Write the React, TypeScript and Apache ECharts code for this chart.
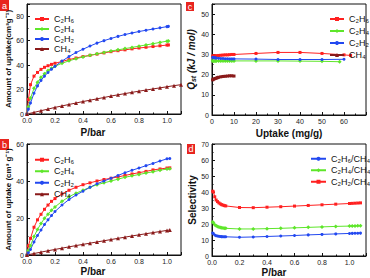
import React, { useEffect, useRef } from "react";
import * as echarts from "echarts";

// ---- Panel a (uptake, P/bar) ----
const pA = [0, 0.01, 0.025, 0.05, 0.075, 0.1, 0.125, 0.15, 0.175, 0.2, 0.25, 0.3, 0.35, 0.4, 0.45, 0.5, 0.55, 0.6, 0.65, 0.7, 0.75, 0.8, 0.85, 0.9, 0.95, 1.0, 1.01];
const aC2H6 = [0, 12, 24, 31, 34, 36.5, 38.2, 39.5, 40.6, 41.5, 43, 44.5, 45.8, 47, 48, 49, 50, 51, 51.8, 52.5, 53.3, 54, 54.6, 55.2, 55.8, 56.4, 56.5];
const aC2H4 = [0, 6, 13, 21, 26, 30, 33, 35.5, 37.5, 39, 41.5, 43.5, 45.2, 46.7, 48, 49.2, 50.4, 51.5, 52.5, 53.5, 54.5, 55.5, 56.5, 57.5, 58.6, 59.6, 59.8];
const aC2H2 = [0, 4, 9, 17, 23, 27.5, 31, 34, 36.7, 39, 43.3, 47, 50.3, 53, 55.6, 58, 60, 61.8, 63.5, 65, 66.3, 67.5, 68.5, 69.5, 70.5, 71.5, 71.7];
const pACH4 = [0, 0.05, 0.1, 0.15, 0.2, 0.25, 0.3, 0.35, 0.4, 0.45, 0.5, 0.55, 0.6, 0.65, 0.7, 0.75, 0.8, 0.85, 0.9, 0.95, 1.0, 1.05, 1.1];
const aCH4 = [0, 1.3, 2.7, 4.0, 5.4, 6.6, 7.8, 9.0, 10.2, 11.3, 12.4, 13.5, 14.7, 15.7, 16.7, 17.7, 18.7, 19.6, 20.5, 21.4, 22.3, 23.2, 24.0];

// ---- Panel b ----
const pB = [0, 0.01, 0.025, 0.05, 0.075, 0.1, 0.125, 0.15, 0.175, 0.2, 0.25, 0.3, 0.35, 0.4, 0.45, 0.5, 0.55, 0.6, 0.65, 0.7, 0.75, 0.8, 0.85, 0.9, 0.95, 1.0, 1.02];
const bC2H6 = [0, 5, 9, 15, 19, 22, 24.7, 27, 29, 30.5, 33, 35, 36.6, 38, 39, 40, 40.8, 41.5, 42.2, 43, 43.8, 44.5, 45.2, 46, 46.5, 47, 47.1];
const bC2H4 = [0, 2.5, 5, 10, 13.8, 17, 19.8, 22, 24.2, 26, 29, 31.5, 33.4, 35, 36.6, 38, 39, 40, 41, 42, 42.8, 43.5, 44.3, 45, 45.8, 46.5, 46.6];
const bC2H2 = [0, 1.2, 3, 7, 10.5, 13.5, 16.5, 19, 21.3, 23.5, 27, 30, 32.4, 34.5, 36.6, 38.5, 40, 41.5, 43, 44.5, 45.8, 47, 48.3, 49.5, 50.8, 52, 52.2];
const pBCH4 = [0, 0.05, 0.1, 0.15, 0.2, 0.25, 0.3, 0.35, 0.4, 0.45, 0.5, 0.55, 0.6, 0.65, 0.7, 0.75, 0.8, 0.85, 0.9, 0.95, 1.0, 1.02];
const bCH4 = [0, 0.8, 1.55, 2.3, 3.0, 3.7, 4.4, 5.1, 5.75, 6.4, 7.05, 7.7, 8.35, 9.0, 9.65, 10.3, 10.9, 11.5, 12.1, 12.7, 13.3, 13.5];

// ---- Panel c (Qst vs uptake) ----
const uC2H6 = [0.3, 0.6, 1, 1.5, 2, 3, 4, 5, 6, 7, 8, 9, 10, 20, 30, 40, 50, 60, 63];
const qC2H6 = [29.2, 29.2, 29.3, 29.3, 29.4, 29.5, 29.6, 29.7, 29.8, 29.8, 29.9, 30, 30, 30.5, 31, 31, 30.5, 29.8, 29.5];
const uC2H4 = [0.3, 0.6, 1, 1.5, 2, 3, 4, 5, 6, 7, 8, 9, 10, 20, 30, 40, 50, 58];
const qC2H4 = [26.8, 26.8, 26.8, 26.8, 26.8, 26.8, 26.8, 26.8, 26.8, 26.8, 26.8, 26.8, 26.8, 26.8, 26.8, 26.7, 26.6, 26.4];
const uC2H2 = [0.3, 0.6, 1, 1.5, 2, 3, 4, 5, 6, 7, 8, 9, 10, 20, 30, 40, 50, 60];
const qC2H2 = [28.6, 28.5, 28.4, 28.3, 28.2, 28.1, 28, 28, 27.9, 27.9, 27.8, 27.8, 27.8, 27.7, 27.5, 27.5, 27.5, 27.6];
const uCH4 = [0.3, 0.6, 1, 1.5, 2, 2.5, 3, 4, 5, 6, 7, 8, 9, 10];
const qCH4 = [17.4, 17.7, 17.9, 18.1, 18.3, 18.5, 18.7, 18.9, 19.1, 19.2, 19.3, 19.4, 19.4, 19.3];

// ---- Panel d (selectivity) ----
const pD = [0.005, 0.01, 0.02, 0.03, 0.04, 0.05, 0.06, 0.07, 0.08, 0.09, 0.1, 0.2, 0.3, 0.4, 0.5, 0.6, 0.7, 0.8, 0.9, 1.0, 1.02, 1.04, 1.06, 1.08];
const sC2H6 = [14.4, 14, 13.1, 12.7, 12.5, 12.3, 12.2, 12.1, 12.05, 12, 12, 11.7, 11.9, 12.2, 12.5, 12.8, 13.2, 13.5, 13.8, 14.1, 14.15, 14.2, 14.25, 14.3];
const sC2H4 = [21.2, 20.8, 19.6, 18.9, 18.4, 18.1, 17.8, 17.6, 17.5, 17.4, 17.3, 16.9, 16.9, 17.1, 17.3, 17.6, 17.9, 18.2, 18.5, 18.7, 18.75, 18.8, 18.85, 18.9];
const sC2H2 = [40.5, 40, 37, 35, 34, 33.2, 32.6, 32.1, 31.8, 31.5, 31.3, 30.3, 30.2, 30.5, 30.8, 31.2, 31.6, 32, 32.4, 32.8, 32.9, 33, 33.1, 33.2];

const gasNames = ["C₂H₆", "C₂H₄", "C₂H₂", "CH₄"];
const selNames = ["C₂H₆/CH₄", "C₂H₄/CH₄", "C₂H₂/CH₄"];

const RED = "#ff2020";
const GREEN = "#5ee62a";
const BLUE = "#2248f0";
const BROWN = "#8a1a1a";

const zip = (xs: number[], ys: number[]) => xs.map((x, i) => [x, ys[i]]);

export default function App() {
  const ref = useRef<HTMLDivElement>(null);
  useEffect(() => {
    document.body.style.margin = "0";
    const chart = echarts.init(ref.current!, null, { renderer: "svg" });
    const font = "Liberation Sans, Arial, sans-serif";
    const grids = [
      { left: 27, top: 4, width: 154, height: 110 },
      { left: 27, top: 144, width: 154, height: 111 },
      { left: 212, top: 4, width: 154, height: 111 },
      { left: 212, top: 144, width: 154, height: 112 },
    ].map((g) => ({ ...g, show: true, borderColor: "#111", borderWidth: 1, backgroundColor: "transparent" }));

    const axisCommon = {
      axisLine: { show: true, onZero: false, lineStyle: { color: "#111", width: 1 } },
      axisTick: { show: true, inside: true, length: 3, lineStyle: { color: "#111" } },
      minorTick: { show: true, splitNumber: 2, length: 1.5, lineStyle: { color: "#111" } },
      splitLine: { show: false },
      axisLabel: { fontSize: 7, color: "#222", fontFamily: font, margin: 3, showMaxLabel: false },
      nameTextStyle: { fontFamily: font, fontWeight: "bold" as const, color: "#111" },
    };
    const fx1 = (v: number) => v.toFixed(1);

    const xAxes = [
      { gridIndex: 0, min: 0, max: 1.1, interval: 0.2, name: "P/bar", nameGap: 13, formatter: fx1, padR: 22 },
      { gridIndex: 1, min: 0, max: 1.1, interval: 0.2, name: "P/bar", nameGap: 11, formatter: fx1, padR: 22 },
      { gridIndex: 2, min: 0, max: 70, interval: 10, name: "Uptake (mg/g)", nameGap: 13, formatter: null, padR: 0 },
      { gridIndex: 3, min: 0, max: 1.12, interval: 0.2, name: "P/bar", nameGap: 11, formatter: fx1, padR: 30 },
    ].map((a) => ({
      type: "value" as const,
      gridIndex: a.gridIndex,
      min: a.min,
      max: a.max,
      interval: a.interval,
      name: a.name,
      nameLocation: "middle" as const,
      nameGap: a.nameGap,
      ...axisCommon,
      axisLabel: { ...axisCommon.axisLabel, ...(a.formatter ? { formatter: a.formatter } : {}) },
      nameTextStyle: { ...axisCommon.nameTextStyle, fontSize: 10, padding: [0, a.padR, 0, 0] },
    }));

    const yAxes = [
      { gridIndex: 0, max: 90, interval: 20, name: "Amount of uptake(cm³g⁻¹)", nameGap: 12, size: 8 },
      { gridIndex: 1, max: 60, interval: 20, name: "Amount of uptake (cm³ g⁻¹)", nameGap: 12, size: 8 },
      { gridIndex: 2, max: 55, interval: 10, name: "{q|Q}{s|st}{t| (kJ / mol)}", nameGap: 12, size: 10 },
      { gridIndex: 3, max: 70, interval: 10, name: "Selectivity", nameGap: 12, size: 10 },
    ].map((a) => ({
      type: "value" as const,
      gridIndex: a.gridIndex,
      min: 0,
      max: a.max,
      interval: a.interval,
      name: a.name,
      nameLocation: "middle" as const,
      nameGap: a.nameGap,
      ...axisCommon,
      axisLabel: { ...axisCommon.axisLabel, showMaxLabel: a.gridIndex === 1 || a.gridIndex === 3 ? true : false },
      nameTextStyle: {
        ...axisCommon.nameTextStyle,
        fontSize: a.size,
        rich: {
          q: { fontSize: 10, fontWeight: "bold", fontStyle: "italic", fontFamily: font, color: "#111" },
          s: { fontSize: 7, fontWeight: "bold", fontStyle: "italic", fontFamily: font, color: "#111", padding: [4, 0, 0, 0] },
          t: { fontSize: 10, fontWeight: "bold", fontStyle: "italic", fontFamily: font, color: "#111" },
        },
      },
    }));

    const mk = (name: string, data: number[][], idx: number, color: string, symbol: string, lw = 1, size = 3) => ({
      type: "line" as const,
      name,
      xAxisIndex: idx,
      yAxisIndex: idx,
      data,
      smooth: false,
      color,
      symbol,
      symbolSize: size,
      showSymbol: true,
      lineStyle: { width: lw, color },
      itemStyle: { color },
    });

    const series = [
      mk(gasNames[0], zip(pA, aC2H6), 0, RED, "rect"),
      mk(gasNames[1], zip(pA, aC2H4), 0, GREEN, "diamond", 1, 4),
      mk(gasNames[2], zip(pA, aC2H2), 0, BLUE, "circle"),
      mk(gasNames[3], zip(pACH4, aCH4), 0, BROWN, "triangle", 1, 4),
      mk(gasNames[0], zip(pB, bC2H6), 1, RED, "rect"),
      mk(gasNames[1], zip(pB, bC2H4), 1, GREEN, "diamond", 1, 4),
      mk(gasNames[2], zip(pB, bC2H2), 1, BLUE, "circle"),
      mk(gasNames[3], zip(pBCH4, bCH4), 1, BROWN, "triangle", 1, 4),
      mk(gasNames[0], zip(uC2H6, qC2H6), 2, RED, "rect"),
      mk(gasNames[1], zip(uC2H4, qC2H4), 2, GREEN, "diamond", 1, 4),
      mk(gasNames[2], zip(uC2H2, qC2H2), 2, BLUE, "circle"),
      mk(gasNames[3], zip(uCH4, qCH4), 2, BROWN, "rect", 2, 3),
      mk(selNames[0], zip(pD, sC2H6), 3, BLUE, "circle"),
      mk(selNames[1], zip(pD, sC2H4), 3, GREEN, "diamond", 1, 4),
      mk(selNames[2], zip(pD, sC2H2), 3, RED, "rect"),
    ];

    const legendBase = {
      orient: "vertical" as const,
      itemGap: 0,
      itemHeight: 5,
      selectedMode: false,
      textStyle: { fontSize: 9, fontFamily: font, color: "#111", lineHeight: 10 },
    };

    const panelLabels = [
      { x: 0, y: 0, w: 9, h: 11, t: "a" },
      { x: 0, y: 139, w: 9, h: 11, t: "b" },
      { x: 186, y: 2, w: 8, h: 9, t: "c" },
      { x: 187, y: 144, w: 8, h: 10, t: "d" },
    ];

    chart.setOption({
      animation: false,
      grid: grids,
      xAxis: xAxes,
      yAxis: yAxes,
      series,
      legend: [
        { ...legendBase, data: gasNames, left: 29, top: 9, itemWidth: 14 },
        { ...legendBase, data: gasNames, left: 29, top: 149, itemWidth: 14, textStyle: { ...legendBase.textStyle, lineHeight: 11.5 } },
        { ...legendBase, data: gasNames, left: 324, top: 8, itemWidth: 14, textStyle: { ...legendBase.textStyle, lineHeight: 12 } },
        { ...legendBase, data: selNames, left: 305, top: 148, itemWidth: 15, textStyle: { ...legendBase.textStyle, lineHeight: 11.5 } },
      ],
      graphic: panelLabels.flatMap((p) => [
        { type: "rect", shape: { x: p.x, y: p.y, width: p.w, height: p.h }, style: { fill: "#e8251f" } },
        {
          type: "text",
          x: p.x + p.w / 2,
          y: p.y + p.h / 2,
          style: { text: p.t, fill: "#fff", fontSize: 9, fontFamily: font, align: "center", verticalAlign: "middle" },
        },
      ]),
    });
    return () => chart.dispose();
  }, []);
  return <div ref={ref} style={{ width: 370, height: 278 }} />;
}
